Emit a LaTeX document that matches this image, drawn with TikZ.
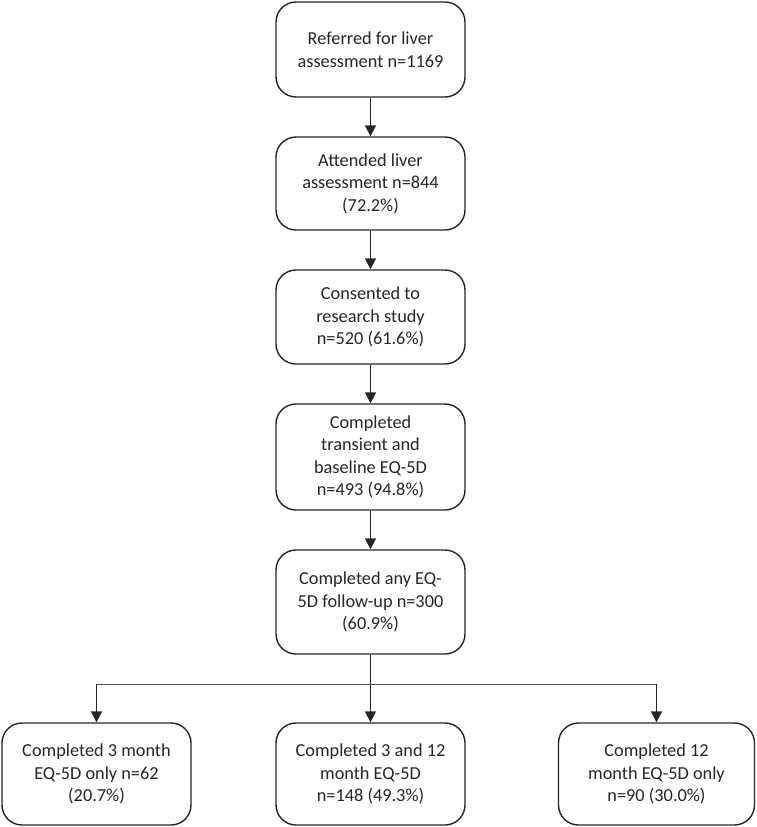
\documentclass[tikz,border=0pt]{standalone}
\usepackage{fontspec}
\setmainfont{Carlito}
\usetikzlibrary{arrows.meta}
\definecolor{ln}{HTML}{262626}
\tikzset{
  box/.style={draw=ln, line width=1.4pt, rounded corners=20pt, align=center,
    font=\fontsize{18.3}{22.5}\selectfont, text=ln, inner sep=0pt},
  arr/.style={draw=ln, line width=1.7pt, -{Triangle[length=11pt,width=11pt]}},
  thin/.style={draw=ln!80, line width=0.9pt}
}
\begin{document}
\begin{tikzpicture}[x=1pt,y=-1pt]
\useasboundingbox (0,0) rectangle (756,827);
\node[box, minimum width=189pt, minimum height=95pt] (b1) at (370.5,49.5) {Referred for liver\\assessment n=1169};
\node[box, minimum width=189pt, minimum height=93pt] (b2) at (370.5,183.5) {Attended liver\\assessment n=844\\(72.2\%)};
\node[box, minimum width=189pt, minimum height=94pt] (b3) at (370.5,317) {Consented to\\research study\\n=520 (61.6\%)};
\node[box, minimum width=189pt, minimum height=106pt] (b4) at (370.5,457) {Completed\\transient and\\baseline EQ-5D\\n=493 (94.8\%)};
\node[box, minimum width=189pt, minimum height=104pt] (b5) at (370.5,602) {Completed any EQ-\\5D follow-up n=300\\(60.9\%)};
\node[box, minimum width=189pt, minimum height=102pt] (b6) at (96.5,774) {Completed 3 month\\EQ-5D only n=62\\(20.7\%)};
\node[box, minimum width=189pt, minimum height=102pt] (b7) at (370.5,774) {Completed 3 and 12\\month EQ-5D\\n=148 (49.3\%)};
\node[box, minimum width=196pt, minimum height=102pt] (b8) at (656.5,774) {Completed 12\\month EQ-5D only\\n=90 (30.0\%)};
\coordinate (hl) at (96.5,684);
\coordinate (hr) at (656.5,684);
\draw[arr] (b1) -- (b2);
\draw[arr] (b2) -- (b3);
\draw[arr] (b3) -- (b4);
\draw[arr] (b4) -- (b5);
\draw[arr] (b5) -- (b7);
\draw[thin] (hl) -- (hr);
\draw[arr] (hl) -- (b6.north);
\draw[arr] (hr) -- (b8.north);
\end{tikzpicture}
\end{document}
